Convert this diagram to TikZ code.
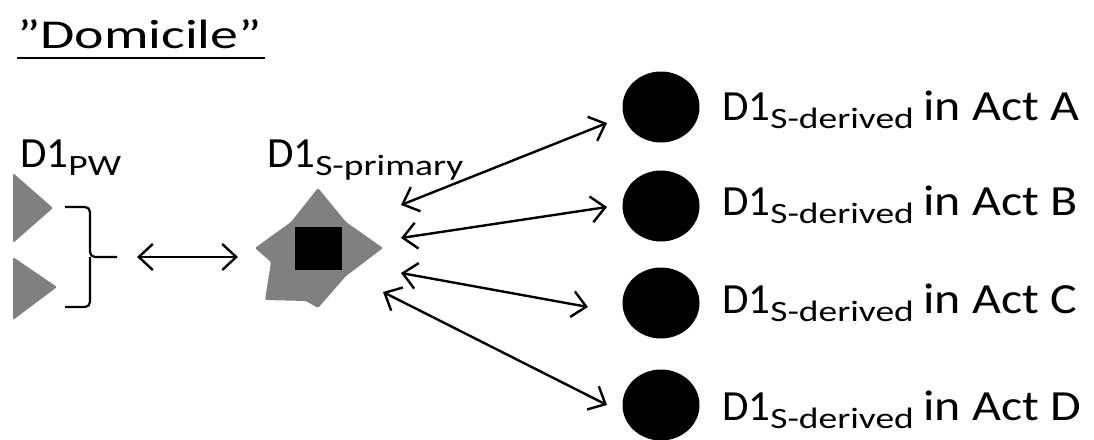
\documentclass[tikz,border=0pt]{standalone}
\usepackage{fontspec}
\setmainfont{Carlito}
\usetikzlibrary{arrows.meta,shapes.geometric}

\definecolor{shapegray}{RGB}{128,128,128}

% main label text with a lowered, smaller, wider subscript
\newcommand{\mainsize}{\fontsize{43}{43}\selectfont}
\newcommand{\subsize}{\fontsize{29.5}{29.5}\selectfont}
\newcommand{\dsub}[1]{D1\raisebox{-8pt}{\subsize\scalebox{1.27}[1]{#1}}}
\newcommand{\wide}[1]{\scalebox{1.16}[1]{#1}}

\tikzset{
  lbl/.style={anchor=base west, inner sep=0pt, font=\mainsize},
  actdot/.style={ellipse, fill=black, minimum width=77pt, minimum height=71pt, inner sep=0pt},
  link/.style={line width=2.4pt, {Straight Barb[length=14pt,width=26pt]}-{Straight Barb[length=14pt,width=26pt]}},
  shapefill/.style={fill=shapegray, rounded corners=1.5pt},
}

\begin{document}
\begin{tikzpicture}[x=1pt,y=-1pt]
\useasboundingbox (0,0) rectangle (1094,439);

% title
\node[anchor=base west, inner sep=0pt, font=\fontsize{41}{41}\selectfont] (title) at (17,48) {\scalebox{1.36}[1]{”Domicile”}};
\draw[line width=2.4pt] (17,58) -- (265,58);

% left group: two triangles and a brace
\node[lbl] (pw) at (20,167) {\dsub{PW}};
\fill[shapefill] (13,173) -- (53,208) -- (13,243) -- cycle;
\fill[shapefill] (13,257) -- (57,287) -- (13,320) -- cycle;
\draw[line width=2.2pt, rounded corners=5pt] (65,207) -- (90,207) -- (90,257) -- (117,257);
\draw[line width=2.2pt, rounded corners=5pt] (65,307) -- (90,307) -- (90,257);

% primary element: grey star with black square
\node[lbl] (prim) at (267,167) {\dsub{S-primary}};
\fill[shapefill] (318,188) -- (346,222) -- (383,248) -- (346,276) -- (318,308)
  -- (306,301) -- (265,300) -- (271,262) -- (255,248) -- (291,222) -- cycle;
\fill[black] (295,227) rectangle (342,270);

% derived elements
\node[actdot] (dA) at (661,107) {};
\node[actdot] (dB) at (661,206) {};
\node[actdot] (dC) at (661,303) {};
\node[actdot] (dD) at (661,405) {};
\node[lbl] (tA) at (722,120) {\dsub{S-derived} \wide{in Act A}};
\node[lbl] (tB) at (722,215) {\dsub{S-derived} \wide{in Act B}};
\node[lbl] (tC) at (722,313) {\dsub{S-derived} \wide{in Act C}};
\node[lbl] (tD) at (722,420) {\dsub{S-derived} \wide{in Act D}};

% connector ends
\coordinate (gL) at (137,257);
\coordinate (gR) at (238,257);
\coordinate (sA) at (401,205);
\coordinate (sB) at (401,238);
\coordinate (sC) at (401,273);
\coordinate (sD) at (383,292);
\coordinate (eA) at (607,123);
\coordinate (eB) at (607,207);
\coordinate (eC) at (588,307);
\coordinate (eD) at (607,405);

\draw[link] (gL) -- (gR);
\draw[link] (sA) -- (eA);
\draw[link] (sB) -- (eB);
\draw[link] (sC) -- (eC);
\draw[link] (sD) -- (eD);
\end{tikzpicture}
\end{document}
